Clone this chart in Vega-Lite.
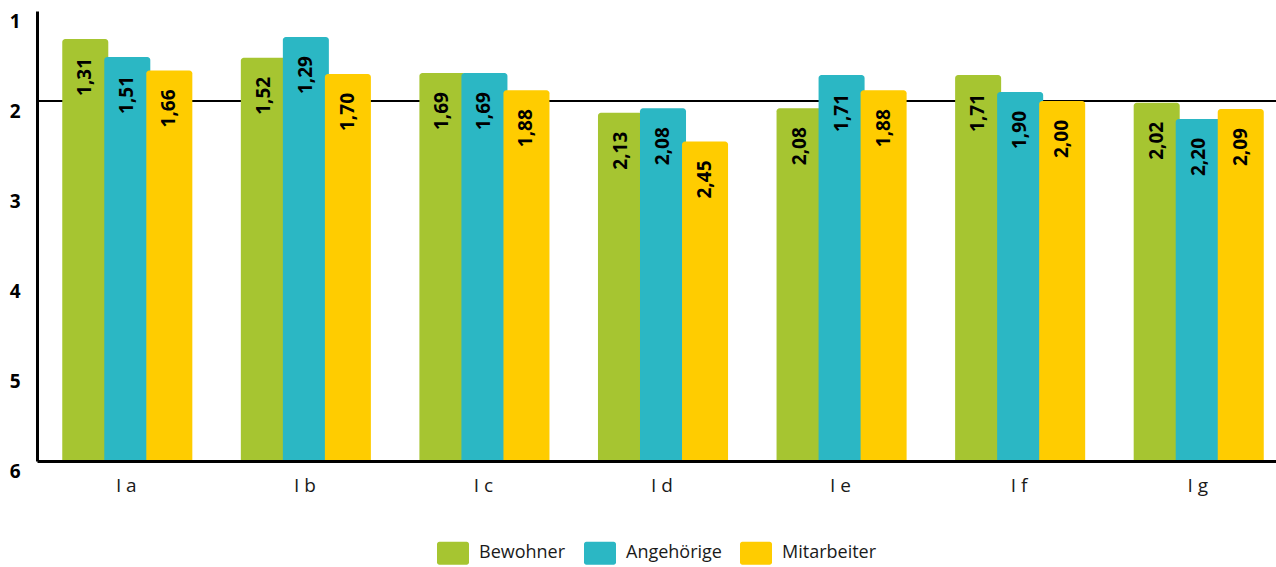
{
  "$schema": "https://vega.github.io/schema/vega-lite/v6.json",
  "width": 1239,
  "height": 450,
  "autosize": {"type": "none"},
  "padding": {"left": 37, "top": 11, "right": 0, "bottom": 106},
  "background": "white",
  "config": {
    "view": {"stroke": null},
    "font": "Open Sans",
    "locale": {"number": {"decimal": ",", "thousands": ".", "grouping": [3], "currency": ["", " €"]}},
    "legend": {"layout": {"bottom": {"anchor": "middle"}}}
  },
  "data": {
    "values": [
      {"gruppe": "I a", "serie": "Bewohner", "wert": 1.31},
      {"gruppe": "I a", "serie": "Angehörige", "wert": 1.51},
      {"gruppe": "I a", "serie": "Mitarbeiter", "wert": 1.66},
      {"gruppe": "I b", "serie": "Bewohner", "wert": 1.52},
      {"gruppe": "I b", "serie": "Angehörige", "wert": 1.29},
      {"gruppe": "I b", "serie": "Mitarbeiter", "wert": 1.70},
      {"gruppe": "I c", "serie": "Bewohner", "wert": 1.69},
      {"gruppe": "I c", "serie": "Angehörige", "wert": 1.69},
      {"gruppe": "I c", "serie": "Mitarbeiter", "wert": 1.88},
      {"gruppe": "I d", "serie": "Bewohner", "wert": 2.13},
      {"gruppe": "I d", "serie": "Angehörige", "wert": 2.08},
      {"gruppe": "I d", "serie": "Mitarbeiter", "wert": 2.45},
      {"gruppe": "I e", "serie": "Bewohner", "wert": 2.08},
      {"gruppe": "I e", "serie": "Angehörige", "wert": 1.71},
      {"gruppe": "I e", "serie": "Mitarbeiter", "wert": 1.88},
      {"gruppe": "I f", "serie": "Bewohner", "wert": 1.71},
      {"gruppe": "I f", "serie": "Angehörige", "wert": 1.90},
      {"gruppe": "I f", "serie": "Mitarbeiter", "wert": 2.00},
      {"gruppe": "I g", "serie": "Bewohner", "wert": 2.02},
      {"gruppe": "I g", "serie": "Angehörige", "wert": 2.20},
      {"gruppe": "I g", "serie": "Mitarbeiter", "wert": 2.09}
    ]
  },
  "layer": [
    {
      "mark": {"type": "rule", "color": "black", "strokeWidth": 2},
      "encoding": {
        "y": {"datum": 2, "type": "quantitative", "scale": {"domain": [1, 6], "reverse": true, "nice": false, "zero": false}}
      }
    },
    {
      "mark": {"type": "bar", "width": {"band": 1.095}, "cornerRadiusTopLeft": 3, "cornerRadiusTopRight": 3},
      "encoding": {
        "x": {
          "field": "gruppe", "type": "nominal", "sort": null,
          "scale": {"range": [0, 1260], "paddingInner": 0.294, "paddingOuter": 0.175},
          "axis": {"title": null, "ticks": false, "domainColor": "black", "domainWidth": 3, "labelFontSize": 19, "labelColor": "#1a1a1a", "labelPadding": 15, "labelOffset": -5, "labelAngle": 0, "zindex": 1, "labelFont": "Open Sans"}
        },
        "xOffset": {"field": "serie", "type": "nominal", "sort": null, "scale": {"paddingInner": 0, "paddingOuter": 0}},
        "y": {
          "field": "wert", "type": "quantitative",
          "scale": {"domain": [1, 6], "reverse": true, "nice": false, "zero": false},
          "axis": {"title": null, "values": [1, 2, 3, 4, 5, 6], "format": "d", "ticks": false, "grid": false, "domainColor": "black", "domainWidth": 3, "labelFontSize": 19, "labelFontWeight": "bold", "labelColor": "black", "labelPadding": 17, "labelOffset": 10, "zindex": 1, "labelFont": "Open Sans"}
        },
        "y2": {"datum": 6},
        "color": {
          "field": "serie", "type": "nominal", "sort": null,
          "scale": {"domain": ["Bewohner", "Angehörige", "Mitarbeiter"], "range": ["#a6c531", "#2bb7c4", "#ffcc00"]},
          "legend": {
            "title": null, "orient": "bottom", "direction": "horizontal", "offset": 42,
            "symbolType": "M-0.85,-0.72H0.85A0.15,0.15 0 0 1 1,-0.57V0.57A0.15,0.15 0 0 1 0.85,0.72H-0.85A0.15,0.15 0 0 1 -1,0.57V-0.57A0.15,0.15 0 0 1 -0.85,-0.72Z",
            "symbolSize": 1024, "symbolStrokeWidth": 0, "symbolOpacity": 1,
            "labelFontSize": 18, "labelFont": "Open Sans", "labelColor": "#1a1a1a", "labelOffset": 10, "columnPadding": 18
          }
        }
      }
    },
    {
      "mark": {"type": "text", "angle": 270, "align": "right", "baseline": "middle", "dx": -19, "dy": -4, "fontSize": 19, "fontWeight": "bold", "color": "black", "font": "Open Sans"},
      "encoding": {
        "x": {"field": "gruppe", "type": "nominal", "sort": null},
        "xOffset": {"field": "serie", "type": "nominal", "sort": null},
        "y": {"field": "wert", "type": "quantitative"},
        "text": {"field": "wert", "type": "quantitative", "format": ".2f"}
      }
    }
  ]
}
